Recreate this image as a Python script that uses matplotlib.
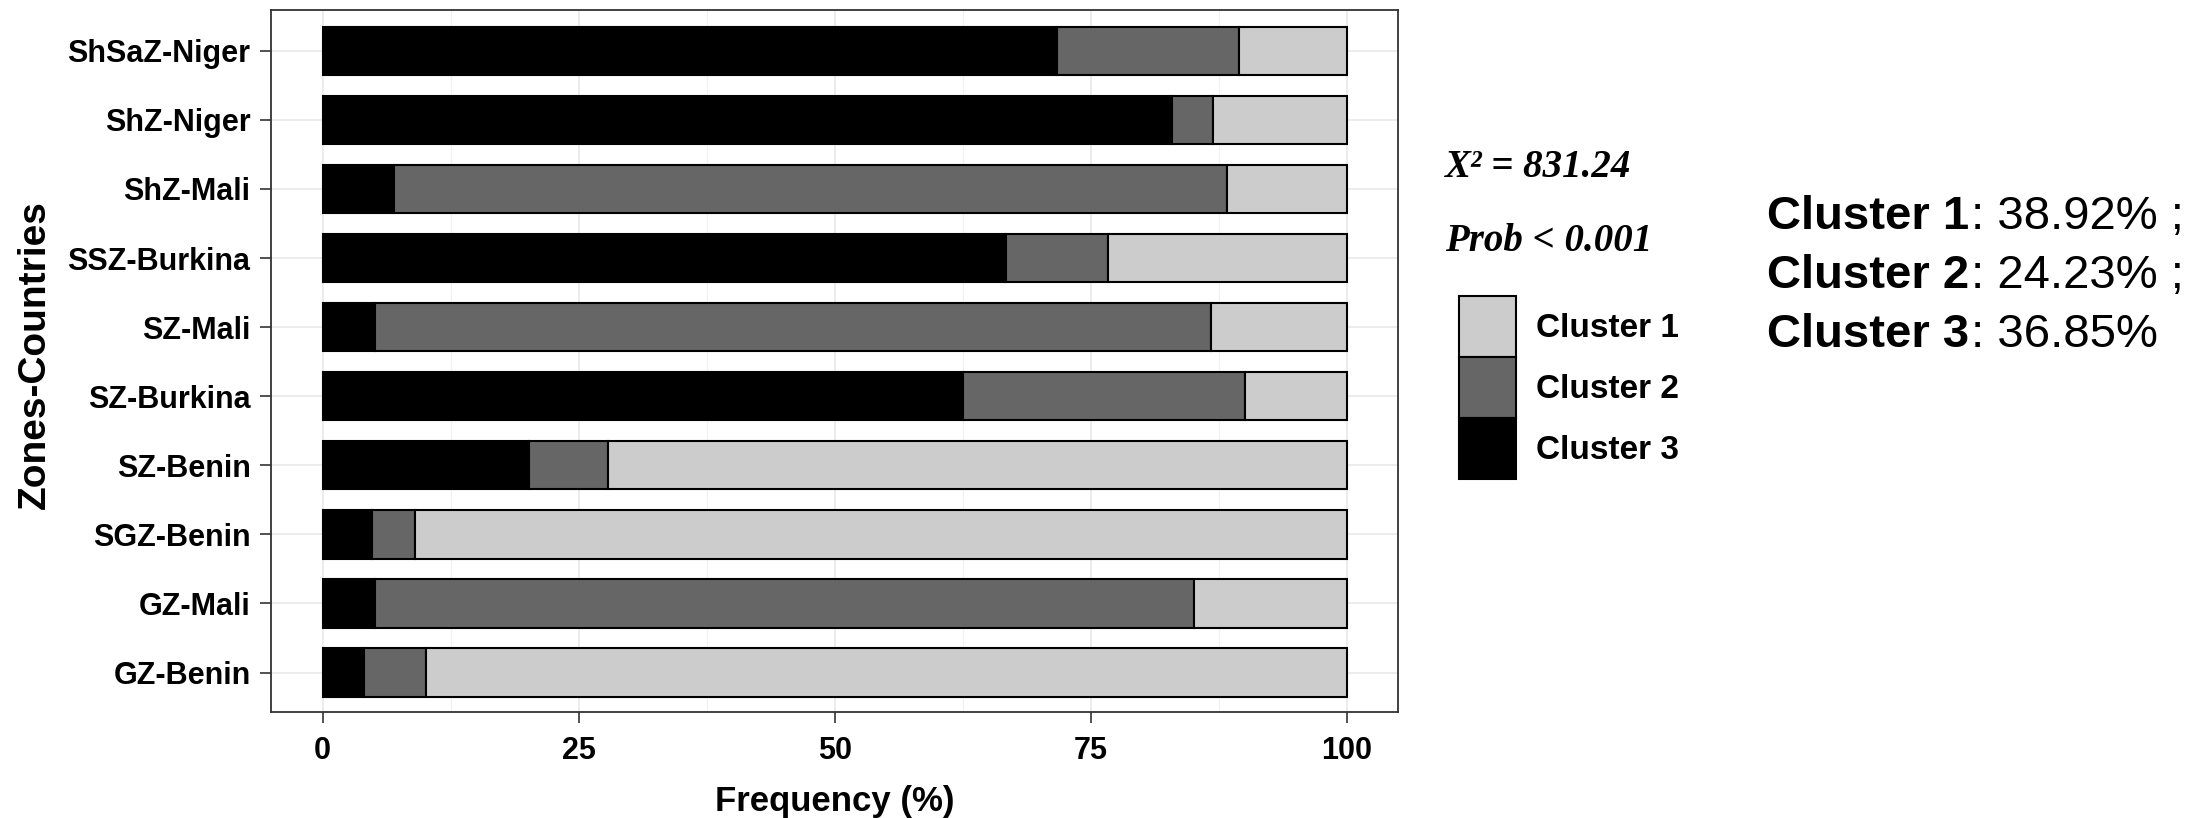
import matplotlib
matplotlib.use("Agg")
import matplotlib.pyplot as plt
from matplotlib.patches import Patch
import numpy as np

# ---- data (bottom to top) ----
categories = ['GZ-Benin', 'GZ-Mali', 'SGZ-Benin', 'SZ-Benin', 'SZ-Burkina',
              'SZ-Mali', 'SSZ-Burkina', 'ShZ-Mali', 'ShZ-Niger', 'ShSaZ-Niger']
cluster3 = [4.0, 5.1, 4.8, 20.2, 62.5, 5.1, 66.7, 7.0, 82.9, 71.7]
cluster2 = [6.1, 80.0, 4.2, 7.7, 27.6, 81.6, 10.0, 81.3, 4.0, 17.8]
cluster1 = [89.9, 14.9, 91.0, 72.1, 9.9, 13.3, 23.3, 11.7, 13.1, 10.5]
cluster_names = ['Cluster 1', 'Cluster 2', 'Cluster 3']
cluster_colors = ['#CCCCCC', '#666666', '#000000']
x_ticks = [0, 25, 50, 75, 100]
x_ticklabels = ['0', '25', '50', '75', '100']
stats_lines = ['X\u00b2 = 831.24', 'Prob < 0.001']
share_bold = ['Cluster 1', 'Cluster 2', 'Cluster 3']
share_vals = [': 38.92% ;', ': 24.23% ;', ': 36.85%']

W, H = 2205, 818
fig = plt.figure(figsize=(W / 100, H / 100), dpi=100)
fig.patch.set_facecolor('white')

L, R, T, B = 271.4, 1398.0, 10.0, 712.3
ax = fig.add_axes([L / W, 1 - B / H, (R - L) / W, (B - T) / H])

sans = ['Liberation Sans', 'DejaVu Sans']
serif = ['Liberation Serif', 'DejaVu Serif']

y = np.arange(len(categories))
c3 = np.array(cluster3)
c2 = np.array(cluster2)
c1 = np.array(cluster1)
bh = 0.7
ax.barh(y, c3, left=0, height=bh, color=cluster_colors[2], edgecolor='black', linewidth=1.5, zorder=3)
ax.barh(y, c2, left=c3, height=bh, color=cluster_colors[1], edgecolor='black', linewidth=1.5, zorder=3)
ax.barh(y, c1, left=c3 + c2, height=bh, color=cluster_colors[0], edgecolor='black', linewidth=1.5, zorder=3)

ax.set_xlim(-5, 105)
ax.set_ylim(-0.575, 9.59)
ax.set_xticks(x_ticks)
ax.set_xticklabels(x_ticklabels)
ax.set_xticks([12.5, 37.5, 62.5, 87.5], minor=True)
ax.set_yticks(y)
ax.set_yticklabels(categories)

ax.grid(True, which='major', color='#EBEBEB', linewidth=1.3, zorder=0)
ax.grid(True, which='minor', axis='x', color='#F0F0F0', linewidth=0.8, zorder=0)
ax.set_axisbelow(True)

for s in ax.spines.values():
    s.set_color('#333333')
    s.set_linewidth(1.3)

ax.tick_params(axis='both', which='major', length=8, width=1.2, color='#333333')
ax.tick_params(axis='x', which='minor', length=0)
ax.tick_params(axis='y', pad=7)
ax.tick_params(axis='x', pad=9)
for lab in ax.get_xticklabels() + ax.get_yticklabels():
    lab.set_family(sans)
    lab.set_fontweight('bold')
    lab.set_fontsize(22)
    lab.set_color('black')

ax.set_xlabel('Frequency (%)', family=sans, fontweight='bold', fontsize=25, color='black')
ax.xaxis.set_label_coords(0.5, (B - 785) / (B - T))
ax.set_ylabel('Zones-Countries', family=sans, fontweight='bold', fontsize=28, color='black')
ax.yaxis.set_label_coords((53 - L) / (R - L), (B - 355) / (B - T))

# statistics text
fig.text(1445 / W, 1 - 177 / H, stats_lines[0], family=serif, style='italic', fontweight='bold',
         fontsize=28, ha='left', va='baseline')
fig.text(1445 / W, 1 - 251 / H, stats_lines[1], family=serif, style='italic', fontweight='bold',
         fontsize=28, ha='left', va='baseline')

# legend
handles = [Patch(facecolor=c, edgecolor='black', linewidth=1.5) for c in cluster_colors]
fs = 24 * 100 / 72
fig.legend(handles, cluster_names, loc='upper left', bbox_to_anchor=(1459 / W, 1 - 296 / H),
           frameon=False, borderpad=0, borderaxespad=0, handlelength=57 / fs, handleheight=2.44,
           handletextpad=20 / fs, labelspacing=0,
           prop={'family': sans, 'weight': 'bold', 'size': 24})

# cluster shares text
baselines = [229.3, 288.0, 346.7]
fig.canvas.draw()
renderer = fig.canvas.get_renderer()
for b, nm, val in zip(baselines, share_bold, share_vals):
    t = fig.text(1767 / W, 1 - b / H, nm, family=sans, fontweight='bold', fontsize=34,
                 ha='left', va='baseline')
    bb = t.get_window_extent(renderer)
    fig.text((bb.x1 + 2) / W, 1 - b / H, val, family=sans, fontsize=34, ha='left', va='baseline')

fig.savefig('out.png', dpi=100, facecolor='white')
